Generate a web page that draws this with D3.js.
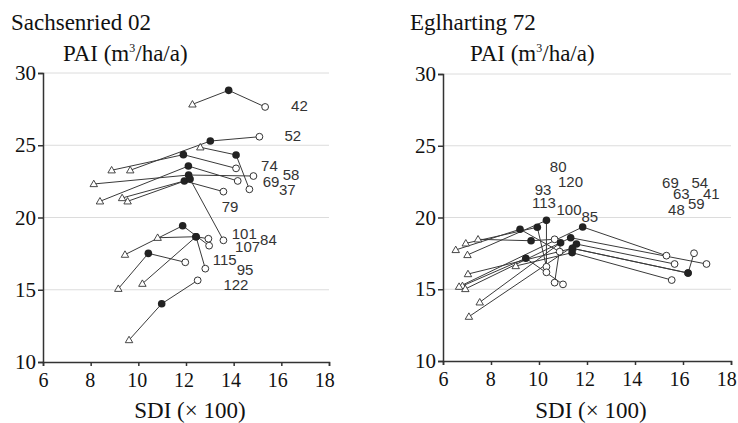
<!DOCTYPE html>
<html>
<head>
<meta charset="utf-8">
<script src="https://cdn.jsdelivr.net/npm/d3@7/dist/d3.min.js"></script>
<style>
  body { margin: 0; background: #fff; }
</style>
</head>
<body>
<div id="chart"></div>
<script>
var serifFont = "Liberation Serif";
var sansFont = "Liberation Sans";

// ---- Sachsenried 02 ----
var sachStands = ["42", "52", "37", "74", "69", "58", "79", "101", "107", "84", "115", "95", "122"];
var sachTriX    = [12.27, 9.66, 12.60, 8.88, 8.39, 8.13, 9.32, 9.55, 9.44, 10.81, 10.17, 9.16, 9.61];
var sachTriY    = [27.83, 23.27, 24.86, 23.27, 21.12, 22.32, 21.35, 21.12, 17.43, 18.60, 15.42, 15.07, 11.52];
var sachFillX   = [13.79, 13.02, 14.10, 11.89, 12.10, 12.11, 11.93, 12.17, 11.86, 12.42, 12.42, 10.42, 10.98];
var sachFillY   = [28.80, 25.29, 24.33, 24.35, 23.56, 22.94, 22.53, 22.66, 19.43, 18.67, 18.67, 17.52, 14.03];
var sachOpenX   = [15.32, 15.08, 14.66, 14.10, 14.17, 14.83, 13.57, 13.57, 12.97, 12.94, 12.81, 11.97, 12.49];
var sachOpenY   = [27.65, 25.59, 21.95, 23.40, 22.53, 22.87, 21.79, 18.42, 18.05, 18.53, 16.46, 16.90, 15.65];
// label anchor (left edge, middle) in data units
var sachLabelX  = [16.41, 16.13, 15.90, 15.15, 15.22, 16.06, 13.50, 13.92, 14.06, 15.11, 13.12, 14.13, 13.57];
var sachLabelY  = [27.72, 25.64, 21.95, 23.56, 22.48, 22.94, 20.75, 18.91, 17.98, 18.49, 17.06, 16.41, 15.38];

// ---- Eglharting 72 ----
var eglStands = ["80", "120", "93", "113", "100", "85", "69", "54", "63", "41", "48", "59"];
var eglTriX   = [6.53, 6.95, 7.02, 7.46, 6.81, 7.53, 6.67, 6.93, 7.08, 7.04, 9.03, 11.39];
var eglTriY   = [17.74, 18.20, 17.39, 18.48, 15.23, 14.09, 15.18, 15.02, 13.09, 16.06, 16.62, 17.85];
var eglFillX  = [9.21, 9.93, 10.31, 9.67, 9.45, 10.90, 11.82, 11.32, 11.56, 11.39, 11.38, 16.21];
var eglFillY  = [19.18, 19.32, 19.80, 18.38, 17.16, 18.24, 19.34, 18.59, 18.15, 17.85, 17.55, 16.13];
var eglOpenX  = [10.86, 10.31, 10.31, 10.65, 11.0, 10.65, 15.31, 16.98, 15.65, 16.21, 15.53, 16.46];
var eglOpenY  = [17.62, 16.57, 16.18, 18.48, 15.34, 15.46, 17.34, 16.76, 16.76, 16.13, 15.64, 17.51];
var eglLabelX = [10.45, 10.79, 9.82, 9.71, 10.73, 11.77, 15.13, 16.35, 15.58, 16.83, 15.38, 16.21];
var eglLabelY = [23.54, 22.49, 21.96, 21.03, 20.52, 20.06, 22.43, 22.43, 21.64, 21.64, 20.52, 20.99];

var xTicks = [6, 8, 10, 12, 14, 16, 18];
var yTicks = [10, 15, 20, 25, 30];
var gridValues = [15, 20, 25, 30];

var svg = d3.select("#chart")
  .append("svg")
  .attr("width", 738)
  .attr("height", 423);

function buildRows(st, tx, ty, fx, fy, ox, oy, lx, ly) {
  return st.map(function(s, i) {
    return { id: s, tx: tx[i], ty: ty[i], fx: fx[i], fy: fy[i], ox: ox[i], oy: oy[i], lx: lx[i], ly: ly[i] };
  });
}

function drawPanel(p, rows) {
  var x = d3.scaleLinear().domain([6, 18]).range([p.left, p.right]);
  var y = d3.scaleLinear().domain([10, 30]).range([p.bottom, p.top]);
  var g = svg.append("g");

  // titles
  g.append("text")
    .attr("x", p.titleX).attr("y", 30)
    .style("font-family", serifFont)
    .style("font-size", "23px")
    .attr("fill", "#111")
    .text(p.title);

  var pai = g.append("text")
    .attr("x", p.paiX).attr("y", 61)
    .style("font-family", serifFont)
    .style("font-size", "23px")
    .attr("fill", "#111");
  pai.append("tspan").text("PAI (m");
  pai.append("tspan").attr("dy", -9).style("font-size", "12px").text("3");
  pai.append("tspan").attr("dy", 9).text("/ha/a)");

  // grid
  g.selectAll(".grid")
    .data(gridValues)
    .enter()
    .append("line")
    .attr("x1", p.left).attr("x2", p.right)
    .attr("y1", d => y(d)).attr("y2", d => y(d))
    .attr("stroke", "#dcdcdc")
    .attr("stroke-width", 1);

  // axes
  var yAxis = g.append("g")
    .attr("transform", `translate(${p.left},0)`)
    .call(d3.axisLeft(y).tickValues(yTicks).tickSize(5).tickPadding(2));
  var xAxis = g.append("g")
    .attr("transform", `translate(0,${p.bottom})`)
    .call(d3.axisBottom(x).tickValues(xTicks).tickSize(4).tickPadding(7));
  [xAxis, yAxis].forEach(function(a) {
    a.attr("font-family", null).attr("font-size", null);
    a.selectAll("path, line").attr("stroke", "#333").attr("stroke-width", 1.5);
    a.selectAll("text")
      .style("font-family", serifFont)
      .style("font-size", "21px")
      .attr("fill", "#111");
  });
  // x labels sit a little left of their ticks in the original, more so on the right
  xAxis.selectAll("text")
    .style("font-size", "20px")
    .attr("dx", d => -(d - 6) * 0.4);

  g.append("text")
    .attr("x", (p.left + p.right) / 2 + 4).attr("y", 418)
    .attr("text-anchor", "middle")
    .style("font-family", serifFont)
    .style("font-size", "23px")
    .attr("fill", "#111")
    .text("SDI (\u00d7 100)");

  // connecting lines: triangle -> filled -> open
  g.selectAll(".conn")
    .data(rows)
    .enter()
    .append("path")
    .attr("d", d => d3.line()([[x(d.tx), y(d.ty)], [x(d.fx), y(d.fy)], [x(d.ox), y(d.oy)]]))
    .attr("fill", "none")
    .attr("stroke", "#3a3a3a")
    .attr("stroke-width", 1);

  var tri = d3.symbol().type(d3.symbolTriangle).size(24);
  g.selectAll(".tri")
    .data(rows)
    .enter()
    .append("path")
    .attr("d", tri)
    .attr("transform", d => `translate(${x(d.tx)},${y(d.ty) + 0.5})`)
    .attr("fill", "#fff")
    .attr("stroke", "#333")
    .attr("stroke-width", 0.9);

  g.selectAll(".open")
    .data(rows)
    .enter()
    .append("circle")
    .attr("cx", d => x(d.ox)).attr("cy", d => y(d.oy))
    .attr("r", 3.4)
    .attr("fill", "#fff")
    .attr("stroke", "#333")
    .attr("stroke-width", 1);

  g.selectAll(".filled")
    .data(rows)
    .enter()
    .append("circle")
    .attr("cx", d => x(d.fx)).attr("cy", d => y(d.fy))
    .attr("r", 3.8)
    .attr("fill", "#222");

  g.selectAll(".lbl")
    .data(rows)
    .enter()
    .append("text")
    .attr("x", d => x(d.lx))
    .attr("y", d => y(d.ly))
    .attr("dy", "0.35em")
    .style("font-family", sansFont)
    .style("font-size", "15px")
    .attr("fill", "#333")
    .text(d => d.id);
}

drawPanel({ title: "Sachsenried 02", titleX: 11, paiX: 63, left: 43, right: 329, top: 73, bottom: 362 },
  buildRows(sachStands, sachTriX, sachTriY, sachFillX, sachFillY, sachOpenX, sachOpenY, sachLabelX, sachLabelY));
drawPanel({ title: "Eglharting 72", titleX: 410, paiX: 470, left: 443, right: 731, top: 74, bottom: 361 },
  buildRows(eglStands, eglTriX, eglTriY, eglFillX, eglFillY, eglOpenX, eglOpenY, eglLabelX, eglLabelY));
</script>
</body>
</html>
